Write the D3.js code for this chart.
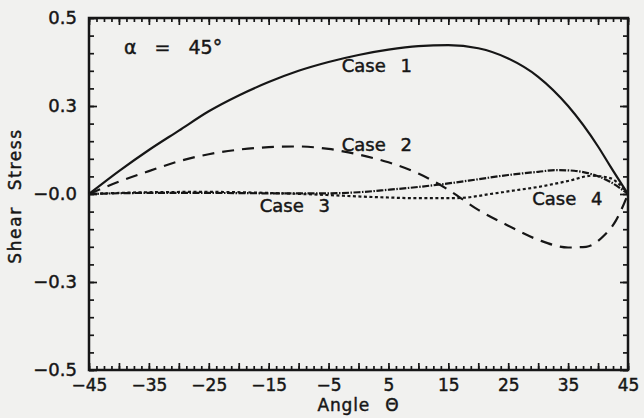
<!DOCTYPE html>
<html>
<head>
<meta charset="utf-8">
<script src="https://cdn.jsdelivr.net/npm/d3@7"></script>
<style>
  html, body { margin: 0; padding: 0; background: #f1f1ef; }
  svg { display: block; }
  text { font-family: "DejaVu Sans", sans-serif; fill: #161616; stroke: #161616; stroke-width: 0.45px; }
</style>
</head>
<body>
<svg id="chart" width="644" height="418"></svg>
<script>
// Shear stress along the wedge face for four loading cases, apex half-angle 45°
const angles1 = [-45, -40, -35, -30, -25, -20, -15, -10, -5, 0, 5, 10, 15, 20, 25, 30, 35, 40, 42, 45];
const case1   = [0, 0.065, 0.125, 0.18, 0.235, 0.28, 0.318, 0.35, 0.375, 0.395, 0.41, 0.42, 0.423, 0.414, 0.385, 0.333, 0.25, 0.135, 0.08, 0];

const angles2 = [-45, -40, -35, -30, -25, -20, -15, -10, -5, 0, 5, 10, 15, 20, 25, 30, 35, 38, 41, 43, 45];
const case2   = [0, 0.035, 0.065, 0.093, 0.113, 0.126, 0.133, 0.135, 0.128, 0.112, 0.09, 0.058, 0.012, -0.045, -0.09, -0.13, -0.152, -0.15, -0.118, -0.075, 0];

const angles3 = [-45, -35, -25, -15, -5, 0, 5, 10, 15, 20, 25, 30, 33, 36, 39, 42, 45];
const case3   = [0, 0.003, 0.003, 0.002, 0.002, 0.005, 0.012, 0.02, 0.03, 0.042, 0.054, 0.063, 0.068, 0.066, 0.056, 0.035, 0];

const angles4 = [-45, -35, -25, -15, -5, 0, 5, 10, 15, 18, 22, 26, 30, 35, 39, 42, 45];
const case4   = [0, 0.005, 0.006, 0.003, -0.003, -0.007, -0.01, -0.012, -0.012, -0.01, 0, 0.01, 0.02, 0.037, 0.052, 0.045, 0];

const xTickValues = [-45, -35, -25, -15, -5, 5, 15, 25, 35, 45];
const xTickLabels = ["−45", "−35", "−25", "−15", "−5", "5", "15", "25", "35", "45"];
const yTickValues = [0.5, 0.25, 0, -0.25, -0.5];
const yTickLabels = ["0.5", "0.3", "−0.0", "−0.3", "−0.5"];

const caseNames = ["Case 1", "Case 2", "Case 3", "Case 4"];

const svg = d3.select("#chart");
const plot = { left: 89, right: 628, top: 18, bottom: 370 };

const x = d3.scaleLinear().domain([-45, 45]).range([plot.left, plot.right]);
const y = d3.scaleLinear().domain([-0.5, 0.5]).range([plot.bottom, plot.top]);

const ink = "#161616";

// minor / major tick positions
const xMinor = d3.range(-45, 45.001, 1.25);
const xMajor = d3.range(-45, 45.001, 5);
const yMinor = d3.range(-0.5, 0.5001, 0.05).map(v => +v.toFixed(2));
const yMajor = [-0.5, -0.25, 0, 0.25, 0.5];

function tickAxis(gen, vals, size, transform) {
  const g = svg.append("g").attr("transform", transform)
    .call(gen.tickValues(vals).tickSize(size).tickFormat(""));
  g.select(".domain").remove();
  g.selectAll(".tick line").attr("stroke", ink).attr("stroke-width", 1.7);
  return g;
}

// inward-pointing ticks on all four sides
tickAxis(d3.axisBottom(x), xMinor, -4, `translate(0,${plot.bottom})`);
tickAxis(d3.axisBottom(x), xMajor, -7, `translate(0,${plot.bottom})`);
tickAxis(d3.axisTop(x), xMinor, -4, `translate(0,${plot.top})`);
tickAxis(d3.axisTop(x), xMajor, -7, `translate(0,${plot.top})`);
tickAxis(d3.axisLeft(y), yMinor, -5, `translate(${plot.left},0)`);
tickAxis(d3.axisLeft(y), yMajor, -8, `translate(${plot.left},0)`);
tickAxis(d3.axisRight(y), yMinor, -5, `translate(${plot.right},0)`);
tickAxis(d3.axisRight(y), yMajor, -8, `translate(${plot.right},0)`);

// frame
svg.append("rect")
  .attr("x", plot.left).attr("y", plot.top)
  .attr("width", plot.right - plot.left).attr("height", plot.bottom - plot.top)
  .attr("fill", "none").attr("stroke", ink).attr("stroke-width", 2.5);

// tick labels
const xAxisLabels = svg.append("g").attr("transform", `translate(0,${plot.bottom})`)
  .call(d3.axisBottom(x).tickValues(xTickValues).tickSize(0).tickPadding(9)
    .tickFormat((d, i) => xTickLabels[i]));
xAxisLabels.select(".domain").remove();
xAxisLabels.selectAll("text")
  .style("font-size", "17px").attr("fill", ink).attr("font-family", "DejaVu Sans");

const yAxisLabels = svg.append("g").attr("transform", `translate(${plot.left},0)`)
  .call(d3.axisLeft(y).tickValues(yTickValues).tickSize(0).tickPadding(12)
    .tickFormat((d, i) => yTickLabels[i]));
yAxisLabels.select(".domain").remove();
yAxisLabels.selectAll("text")
  .style("font-size", "18px").attr("fill", ink).attr("font-family", "DejaVu Sans");

// axis titles
svg.append("text")
  .attr("x", (plot.left + plot.right) / 2).attr("y", 411)
  .attr("text-anchor", "middle")
  .style("font-size", "17px")
  .attr("letter-spacing", "0.8px")
  .attr("word-spacing", "9px")
  .text("Angle Θ");

svg.append("text")
  .attr("transform", `translate(21,${(plot.top + plot.bottom) / 2 + 2}) rotate(-90)`)
  .attr("text-anchor", "middle")
  .style("font-size", "17px")
  .attr("letter-spacing", "1.6px")
  .attr("word-spacing", "9px")
  .text("Shear Stress");

// curves
const series = [
  { xs: angles1, ys: case1, dash: null },
  { xs: angles2, ys: case2, dash: "12,8" },
  { xs: angles3, ys: case3, dash: "7,1.5,1.5,1.5" },
  { xs: angles4, ys: case4, dash: "3,2.5" }
];

const line = d3.line()
  .x(d => x(d[0])).y(d => y(d[1]))
  .curve(d3.curveMonotoneX);

svg.append("g").selectAll("path")
  .data(series)
  .join("path")
  .attr("d", s => line(s.xs.map((a, i) => [a, s.ys[i]])))
  .attr("fill", "none")
  .attr("stroke", ink)
  .attr("stroke-width", 2.2)
  .attr("stroke-dasharray", s => s.dash);

// annotations
const notes = [
  { text: caseNames[0], at: [-2.8, 0.347] },
  { text: caseNames[1], at: [-2.8, 0.122] },
  { text: caseNames[2], at: [-16.5, -0.051] },
  { text: caseNames[3], at: [29, -0.031] }
];
svg.append("g").selectAll("text")
  .data(notes)
  .join("text")
  .attr("x", d => x(d.at[0]))
  .attr("y", d => y(d.at[1]))
  .style("font-size", "18px")
  .attr("word-spacing", "9px")
  .text(d => d.text);

svg.append("text")
  .attr("x", 124).attr("y", y(0.398))
  .style("font-size", "19px")
  .attr("word-spacing", "12px")
  .text("α = 45°");
</script>
</body>
</html>
